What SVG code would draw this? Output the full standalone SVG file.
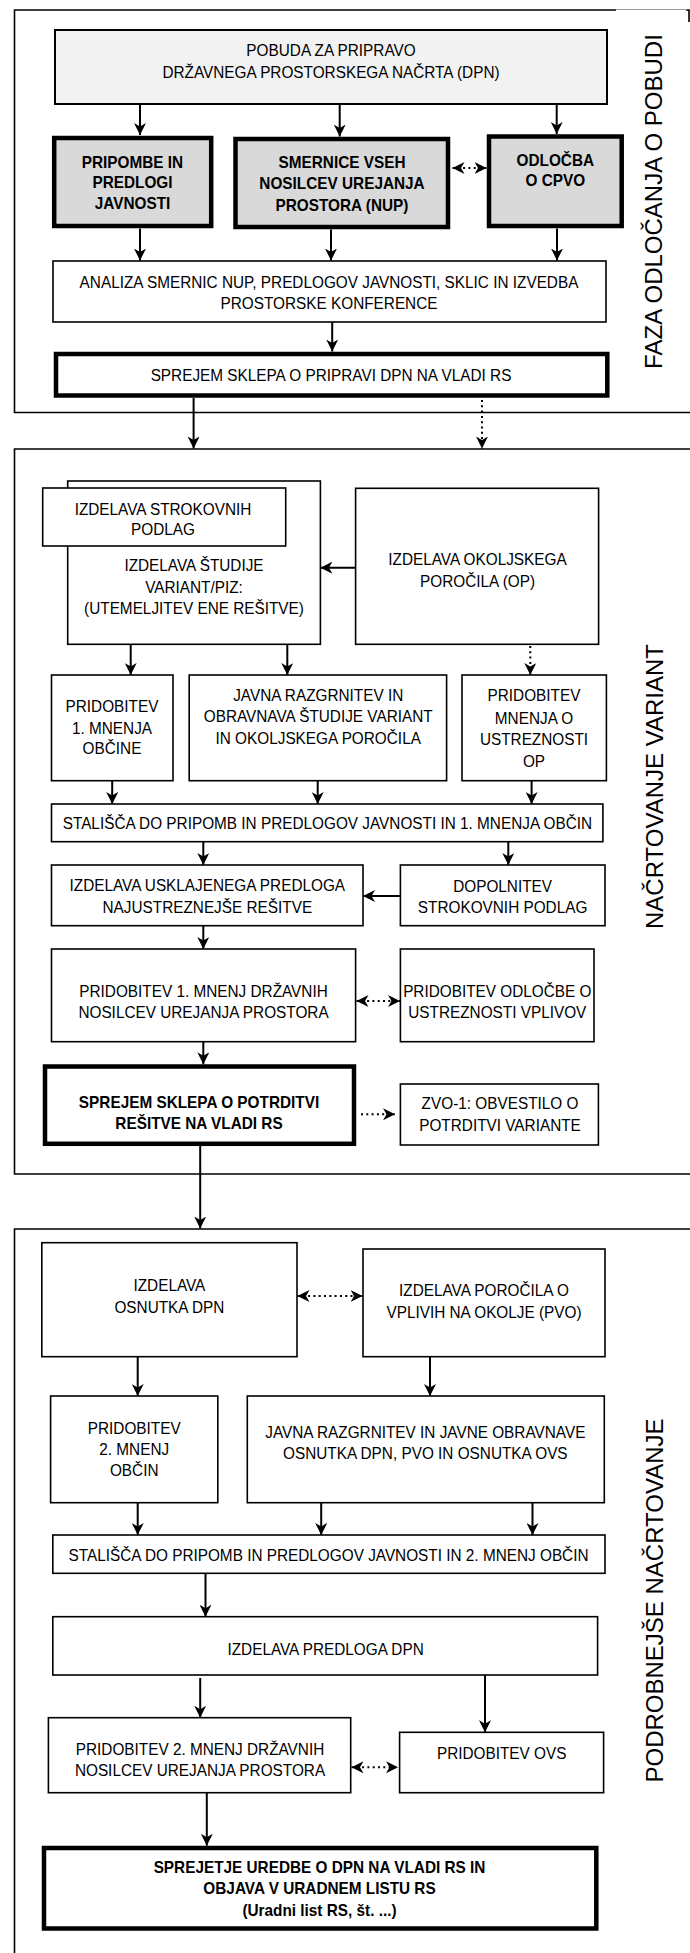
<svg xmlns="http://www.w3.org/2000/svg" width="690" height="1953" viewBox="0 0 690 1953">
<style>
.t{font-family:"Liberation Sans",Arial,sans-serif;font-size:16.5px;text-anchor:middle;fill:#000}
.b{font-weight:bold}
.lbl{font-family:"Liberation Sans",Arial,sans-serif;font-size:24px;text-anchor:middle;fill:#000}
.box{fill:#fff;stroke:#000;stroke-width:1.6}
.thick{fill:#fff;stroke:#000;stroke-width:4.5}
.gray{fill:#d9d9d9;stroke:#000;stroke-width:4.5}
.light{fill:#f2f2f2;stroke:#000;stroke-width:2}
.frame{fill:none;stroke:#000;stroke-width:1.6}
.c{fill:none;stroke:#000;stroke-width:2;marker-end:url(#ah)}
.d{fill:none;stroke:#000;stroke-width:2;stroke-dasharray:2 3.3;marker-end:url(#ah)}
.bi{marker-start:url(#ah)}
</style>
<defs>
<marker id="ah" viewBox="0 0 12 12" refX="12" refY="6" markerWidth="12" markerHeight="12" markerUnits="userSpaceOnUse" orient="auto-start-reverse"><path d="M0,0 L12,6 L0,12 L3.5,6 Z" fill="#000"/></marker>
</defs>
<rect width="690" height="1953" fill="#fff"/>
<g id="frames">
<path class="frame" d="M616,10 H14.5 V412.5 H692"/>
<path class="frame" d="M686,10 H689 V22"/>
<path d="M616,9.5 H687" stroke="#999" stroke-width="1" fill="none"/>
<path class="frame" d="M692,449 H14.5 V1174 H692"/>
<path class="frame" d="M692,1229 H14.5 V1960"/>
</g>
<g id="label1"><text class="lbl" transform="translate(662,201.5) rotate(-90)">FAZA ODLOČANJA O POBUDI</text></g>
<g id="label2"><text class="lbl" transform="translate(663,786.5) rotate(-90)">NAČRTOVANJE VARIANT</text></g>
<g id="label3"><text class="lbl" transform="translate(663,1600.5) rotate(-90)">PODROBNEJŠE NAČRTOVANJE</text></g>

<g id="n_pobuda"><rect class="light" x="55" y="30" width="552" height="74"/>
<g transform="translate(331,0) scale(0.93,1)"><text class="t" y="55.9">POBUDA ZA PRIPRAVO</text><text class="t" y="77.9">DRŽAVNEGA PROSTORSKEGA NAČRTA (DPN)</text></g></g>
<g id="n_pripombe"><rect class="gray" x="54.2" y="138" width="157" height="88"/>
<g transform="translate(132.5,0) scale(0.93,1)"><text class="t b" y="167.6">PRIPOMBE IN</text><text class="t b" y="188.2">PREDLOGI</text><text class="t b" y="209.2">JAVNOSTI</text></g></g>
<g id="n_smernice"><rect class="gray" x="235.5" y="139" width="212.5" height="88"/>
<g transform="translate(342,0) scale(0.93,1)"><text class="t b" y="167.6">SMERNICE VSEH</text><text class="t b" y="189.2">NOSILCEV UREJANJA</text><text class="t b" y="210.9">PROSTORA (NUP)</text></g></g>
<g id="n_odlocba"><rect class="gray" x="489" y="136.5" width="132.7" height="89.5"/>
<g transform="translate(555.3,0) scale(0.93,1)"><text class="t b" y="165.6">ODLOČBA</text><text class="t b" y="185.9">O CPVO</text></g></g>
<g id="n_analiza"><rect class="box" x="53" y="261" width="553" height="61"/>
<g transform="translate(329,0) scale(0.93,1)"><text class="t" y="287.6">ANALIZA SMERNIC NUP, PREDLOGOV JAVNOSTI, SKLIC IN IZVEDBA</text><text class="t" y="309.2">PROSTORSKE KONFERENCE</text></g></g>
<g id="n_sprejem1"><rect class="thick" x="56" y="354" width="551.3" height="41.5"/>
<g transform="translate(331,0) scale(0.93,1)"><text class="t" y="380.9">SPREJEM SKLEPA O PRIPRAVI DPN NA VLADI RS</text></g></g>

<g id="n_studije"><rect class="box" x="67.7" y="481" width="252.7" height="163.3"/>
<g transform="translate(194,0) scale(0.93,1)"><text class="t" y="570.9">IZDELAVA ŠTUDIJE</text><text class="t" y="592.6">VARIANT/PIZ:</text><text class="t" y="614.2">(UTEMELJITEV ENE REŠITVE)</text></g></g>
<g id="n_strokovne"><rect class="box" x="42.7" y="488" width="243" height="58"/>
<g transform="translate(163,0) scale(0.93,1)"><text class="t" y="515.2">IZDELAVA STROKOVNIH</text><text class="t" y="535.2">PODLAG</text></g></g>
<g id="n_okoljsko"><rect class="box" x="355.6" y="488.3" width="243" height="156"/>
<g transform="translate(477.5,0) scale(0.93,1)"><text class="t" y="565.2">IZDELAVA OKOLJSKEGA</text><text class="t" y="586.9">POROČILA (OP)</text></g></g>
<g id="n_mnenje1"><rect class="box" x="51.5" y="675" width="121.5" height="105.7"/>
<g transform="translate(112,0) scale(0.93,1)"><text class="t" y="711.9">PRIDOBITEV</text><text class="t" y="733.6">1. MNENJA</text><text class="t" y="754.2">OBČINE</text></g></g>
<g id="n_javna1"><rect class="box" x="189.2" y="675" width="257.4" height="105.7"/>
<g transform="translate(318.2,0) scale(0.93,1)"><text class="t" y="700.9">JAVNA RAZGRNITEV IN</text><text class="t" y="721.9">OBRAVNAVA ŠTUDIJE VARIANT</text><text class="t" y="743.6">IN OKOLJSKEGA POROČILA</text></g></g>
<g id="n_op"><rect class="box" x="462" y="675" width="144.4" height="105.7"/>
<g transform="translate(534,0) scale(0.93,1)"><text class="t" y="701.2">PRIDOBITEV</text><text class="t" y="723.6">MNENJA O</text><text class="t" y="745.2">USTREZNOSTI</text><text class="t" y="766.9">OP</text></g></g>
<g id="n_stalisca1"><rect class="box" x="51.5" y="804" width="551.4" height="37.7"/>
<g transform="translate(327.4,0) scale(0.93,1)"><text class="t" y="829.2">STALIŠČA DO PRIPOMB IN PREDLOGOV JAVNOSTI IN 1. MNENJA OBČIN</text></g></g>
<g id="n_usklajen"><rect class="box" x="51.5" y="865" width="311.5" height="60.7"/>
<g transform="translate(207.3,0) scale(0.93,1)"><text class="t" y="890.9">IZDELAVA USKLAJENEGA PREDLOGA</text><text class="t" y="912.6">NAJUSTREZNEJŠE REŠITVE</text></g></g>
<g id="n_dopolnitev"><rect class="box" x="400.4" y="865" width="204.6" height="60.7"/>
<g transform="translate(502.6,0) scale(0.93,1)"><text class="t" y="891.9">DOPOLNITEV</text><text class="t" y="913.2">STROKOVNIH PODLAG</text></g></g>
<g id="n_drzavni1"><rect class="box" x="51.5" y="949" width="304.1" height="92.7"/>
<g transform="translate(203.5,0) scale(0.93,1)"><text class="t" y="996.9">PRIDOBITEV 1. MNENJ DRŽAVNIH</text><text class="t" y="1017.6">NOSILCEV UREJANJA PROSTORA</text></g></g>
<g id="n_odlvpl"><rect class="box" x="400.4" y="949" width="193.6" height="92.7"/>
<g transform="translate(497.3,0) scale(0.93,1)"><text class="t" y="996.9">PRIDOBITEV ODLOČBE O</text><text class="t" y="1017.6">USTREZNOSTI VPLIVOV</text></g></g>
<g id="n_sprejem2"><rect class="thick" x="45" y="1066.5" width="309" height="77.3"/>
<g transform="translate(199,0) scale(0.93,1)"><text class="t b" y="1107.6">SPREJEM SKLEPA O POTRDITVI</text><text class="t b" y="1128.6">REŠITVE NA VLADI RS</text></g></g>
<g id="n_zvo"><rect class="box" x="400.4" y="1084" width="198" height="61"/>
<g transform="translate(500,0) scale(0.93,1)"><text class="t" y="1109.2">ZVO-1: OBVESTILO O</text><text class="t" y="1130.9">POTRDITVI VARIANTE</text></g></g>

<g id="n_osnutek"><rect class="box" x="41.8" y="1242.7" width="255.2" height="114"/>
<g transform="translate(169.4,0) scale(0.93,1)"><text class="t" y="1290.9">IZDELAVA</text><text class="t" y="1312.6">OSNUTKA DPN</text></g></g>
<g id="n_pvo"><rect class="box" x="363" y="1249" width="242" height="107.7"/>
<g transform="translate(484,0) scale(0.93,1)"><text class="t" y="1295.9">IZDELAVA POROČILA O</text><text class="t" y="1317.6">VPLIVIH NA OKOLJE (PVO)</text></g></g>
<g id="n_mnenje2"><rect class="box" x="50.6" y="1396" width="167.2" height="106.7"/>
<g transform="translate(134.2,0) scale(0.93,1)"><text class="t" y="1434.2">PRIDOBITEV</text><text class="t" y="1455.2">2. MNENJ</text><text class="t" y="1475.9">OBČIN</text></g></g>
<g id="n_javna2"><rect class="box" x="247.3" y="1396" width="357" height="106.7"/>
<g transform="translate(425.3,0) scale(0.93,1)"><text class="t" y="1438.2">JAVNA RAZGRNITEV IN JAVNE OBRAVNAVE</text><text class="t" y="1459.2">OSNUTKA DPN, PVO IN OSNUTKA OVS</text></g></g>
<g id="n_stalisca2"><rect class="box" x="52.8" y="1535" width="552.2" height="38.3"/>
<g transform="translate(328.5,0) scale(0.93,1)"><text class="t" y="1560.9">STALIŠČA DO PRIPOMB IN PREDLOGOV JAVNOSTI IN 2. MNENJ OBČIN</text></g></g>
<g id="n_predlog"><rect class="box" x="52.8" y="1616.7" width="544.8" height="58.3"/>
<g transform="translate(325.6,0) scale(0.93,1)"><text class="t" y="1655.2">IZDELAVA PREDLOGA DPN</text></g></g>
<g id="n_drzavni2"><rect class="box" x="48.4" y="1717.7" width="302.3" height="75"/>
<g transform="translate(200,0) scale(0.93,1)"><text class="t" y="1755.2">PRIDOBITEV 2. MNENJ DRŽAVNIH</text><text class="t" y="1775.9">NOSILCEV UREJANJA PROSTORA</text></g></g>
<g id="n_ovs"><rect class="box" x="399.6" y="1732.3" width="204" height="60.4"/>
<g transform="translate(501.7,0) scale(0.93,1)"><text class="t" y="1758.6">PRIDOBITEV OVS</text></g></g>
<g id="n_sprejetje"><rect class="thick" x="44" y="1848" width="552.3" height="80.5"/>
<g transform="translate(319.5,0) scale(0.93,1)"><text class="t b" y="1873.2">SPREJETJE UREDBE O DPN NA VLADI RS IN</text><text class="t b" y="1894.2">OBJAVA V URADNEM LISTU RS</text><text class="t b" y="1915.9">(Uradni list RS, št. ...)</text></g></g>

<g id="connectors">
<path class="c" d="M140,105 V135"/>
<path class="c" d="M339.7,105 V136.5"/>
<path class="c" d="M556.7,105 V134"/>
<path class="c" d="M140,228.5 V260.5"/>
<path class="c" d="M331,229.5 V260.5"/>
<path class="c" d="M557,228.5 V260.5"/>
<path class="c" d="M332.2,322 V351.5"/>
<path class="d bi" d="M452.5,168 H486.5"/>
<path class="c" d="M193.6,398 V448.5"/>
<path class="d" d="M482,400 V448.5"/>
<path class="c" d="M355.6,567.7 H320.4"/>
<path class="c" d="M130.7,644.3 V675"/>
<path class="c" d="M287.3,644.3 V675"/>
<path class="d" d="M530.3,646 V675"/>
<path class="c" d="M112.2,780.7 V804"/>
<path class="c" d="M317.7,780.7 V804"/>
<path class="c" d="M531.6,780.7 V804"/>
<path class="c" d="M203.3,841.7 V865"/>
<path class="c" d="M508.3,841.7 V865"/>
<path class="c" d="M400.4,896 H363"/>
<path class="c" d="M203.3,925.7 V949"/>
<path class="d bi" d="M356.5,1001 H400"/>
<path class="c" d="M203.3,1041.7 V1064.3"/>
<path class="d" d="M361,1114.3 H395"/>
<path class="c" d="M200.2,1146 V1228.5"/>
<path class="d bi" d="M297.5,1296 H362.5"/>
<path class="c" d="M137.7,1356.7 V1396"/>
<path class="c" d="M430,1356.7 V1396"/>
<path class="c" d="M137.7,1502.7 V1535"/>
<path class="c" d="M321.2,1502.7 V1535"/>
<path class="c" d="M532.5,1502.7 V1535"/>
<path class="c" d="M205.5,1573.3 V1616.7"/>
<path class="c" d="M200.2,1678 V1717.7"/>
<path class="c" d="M485,1675 V1732.3"/>
<path class="d bi" d="M351.5,1767.3 H398"/>
<path class="c" d="M206.8,1792.7 V1845.7"/>
</g>
</svg>
